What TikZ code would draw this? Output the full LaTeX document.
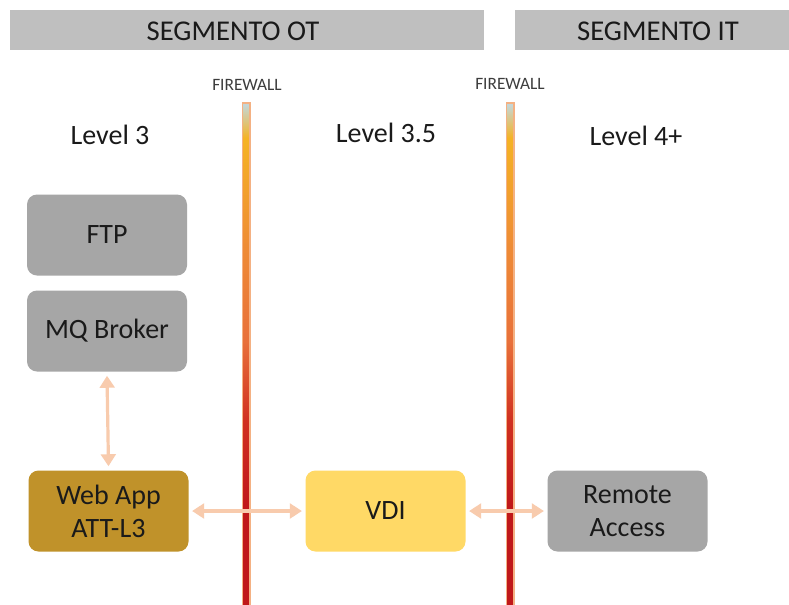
\documentclass[tikz,border=0pt]{standalone}
\usepackage{fontspec}
\setmainfont{Carlito}
\usetikzlibrary{arrows.meta}
\definecolor{bargray}{HTML}{BFBFBF}
\definecolor{boxgray}{HTML}{A6A6A6}
\definecolor{webapp}{HTML}{C0922A}
\definecolor{vdi}{HTML}{FFD966}
\definecolor{arrowc}{HTML}{F8CBAD}
\definecolor{txt}{HTML}{1A1A1A}
\definecolor{fwtop}{HTML}{C4D6D6}
\definecolor{fwyel}{HTML}{F5B324}
\definecolor{fwora}{HTML}{EE8A36}
\definecolor{fwora2}{HTML}{E8703A}
\definecolor{fwred}{HTML}{D03020}
\definecolor{fwdark}{HTML}{C0181A}
\definecolor{fwedge}{HTML}{F4B183}
\pgfdeclareverticalshading{fwshade}{100bp}{color(0bp)=(fwdark); color(35bp)=(fwdark); color(43.4bp)=(fwred); color(51.3bp)=(fwora2); color(60.3bp)=(fwora); color(71.5bp)=(fwyel); color(74.8bp)=(fwtop); color(100bp)=(fwtop)}
\begin{document}
\begin{tikzpicture}[x=0.75pt,y=-0.75pt,
  bar/.style={fill=bargray, draw=none},
  bartext/.style={inner sep=0pt, text=txt, font=\fontsize{21.5}{25}\selectfont},
  lvl/.style={text=txt, font=\fontsize{21}{25}\selectfont, inner sep=0pt},
  fwlabel/.style={text=txt!85, font=\fontsize{13}{15}\selectfont, inner sep=0pt},
  box/.style={rounded corners=7.5pt, minimum width=120pt, minimum height=60.75pt, inner sep=0pt, align=center, text=txt, font=\fontsize{21}{24.75}\selectfont, draw=none},
  link/.style={draw=arrowc, line width=2.4pt, {Triangle[length=9pt,width=11pt]}-{Triangle[length=9pt,width=11pt]}},
  fw/.style={shading=fwshade, draw=fwedge, line width=0.9pt}
]
\useasboundingbox (0,0) rectangle (789,604);
\fill[white] (0,0) rectangle (789,604);
% top bars
\fill[bar] (10,10) rectangle (484,50);
\fill[bar] (515,10) rectangle (789,50);
\node[bartext] (ot) at (233,31) {SEGMENTO OT};
\node[bartext] (it) at (658,31) {SEGMENTO IT};
% firewalls
\shade[fw] (242.5,103) rectangle (250,606);
\shade[fw] (506.5,103) rectangle (514,606);
\node[fwlabel] (fw1) at (247,85) {FIREWALL};
\node[fwlabel] (fw2) at (510,84) {FIREWALL};
% levels
\node[lvl] (l3) at (110,135) {Level 3};
\node[lvl] (l35) at (386,133) {Level 3.5};
\node[lvl] (l4) at (636,136) {Level 4+};
% boxes
\node[box, fill=boxgray] (ftp) at (107,235) {FTP};
\node[box, fill=boxgray] (mq) at (107,331) {MQ Broker};
\node[box, fill=webapp] (web) at (108.5,511) {Web App\\ATT-L3};
\node[box, fill=vdi] (vdi) at (385.5,511) {VDI};
\node[box, fill=boxgray] (ra) at (627.5,511) {Remote\\Access};
% connectors
\draw[link] ([yshift=-3pt]mq.south) -- ([yshift=3pt]web.north);
\draw[link] ([xshift=2.5pt]web.east) -- ([xshift=-2.5pt]vdi.west);
\draw[link] ([xshift=2.5pt]vdi.east) -- ([xshift=-2.5pt]ra.west);
\end{tikzpicture}
\end{document}
